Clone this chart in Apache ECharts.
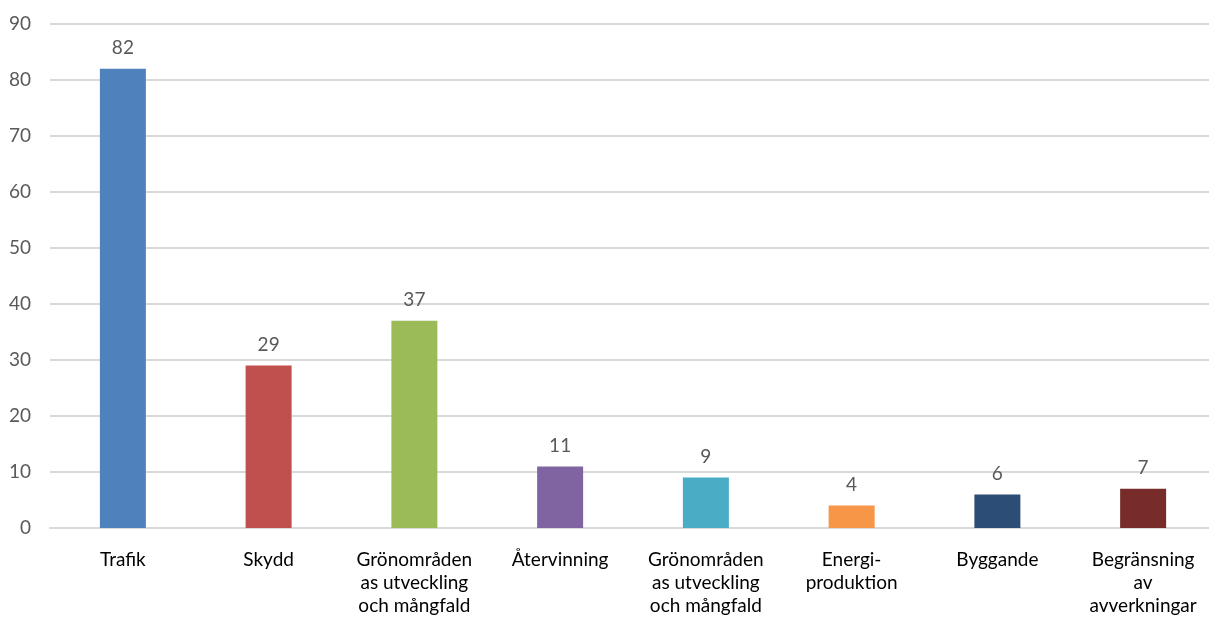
<!DOCTYPE html>
<html>
<head>
<meta charset="utf-8">
<script src="https://cdn.jsdelivr.net/npm/echarts@6/dist/echarts.min.js"></script>
<style>html,body{margin:0;padding:0;background:#fff}#c{width:1209px;height:619px}</style>
</head>
<body>
<div id="c"></div>
<script>
const categories = ["Trafik", "Skydd", "Grönområden\nas utveckling\noch mångfald", "Återvinning", "Grönområden\nas utveckling\noch mångfald", "Energi-\nproduktion", "Byggande", "Begränsning\nav\navverkningar"];
const values = [82, 29, 37, 11, 9, 4, 6, 7];
const colors = ["#4F81BD", "#C0504D", "#9BBB59", "#8064A2", "#4BACC6", "#F79646", "#2C4D75", "#772C2A"];

const chart = echarts.init(document.getElementById('c'));
const font = "Lato, 'Open Sans', sans-serif";
chart.setOption({
  animation: false,
  textStyle: { fontFamily: font },
  grid: { left: 50, right: -7, top: 24, bottom: 91, containLabel: false, outerBoundsMode: 'none' },
  xAxis: {
    type: 'category',
    data: categories,
    axisLine: { show: true, lineStyle: { color: '#D9D9D9', width: 2 } },
    axisTick: { show: false },
    axisLabel: { color: '#000', fontSize: 19, lineHeight: 23, margin: 20, interval: 0, fontFamily: font, verticalAlign: 'top' }
  },
  yAxis: {
    type: 'value',
    min: 0, max: 90, interval: 10,
    axisLine: { show: false },
    axisTick: { show: false },
    splitLine: { lineStyle: { color: '#D9D9D9', width: 2 } },
    axisLabel: { color: '#595959', fontSize: 19, margin: 19, fontFamily: font }
  },
  series: [{
    type: 'bar',
    barWidth: 46,
    data: values.map((v, i) => ({ value: v, itemStyle: { color: colors[i] } })),
    label: { show: true, position: 'top', distance: 11, color: '#595959', fontSize: 19, fontFamily: font }
  }]
});
</script>
</body>
</html>
